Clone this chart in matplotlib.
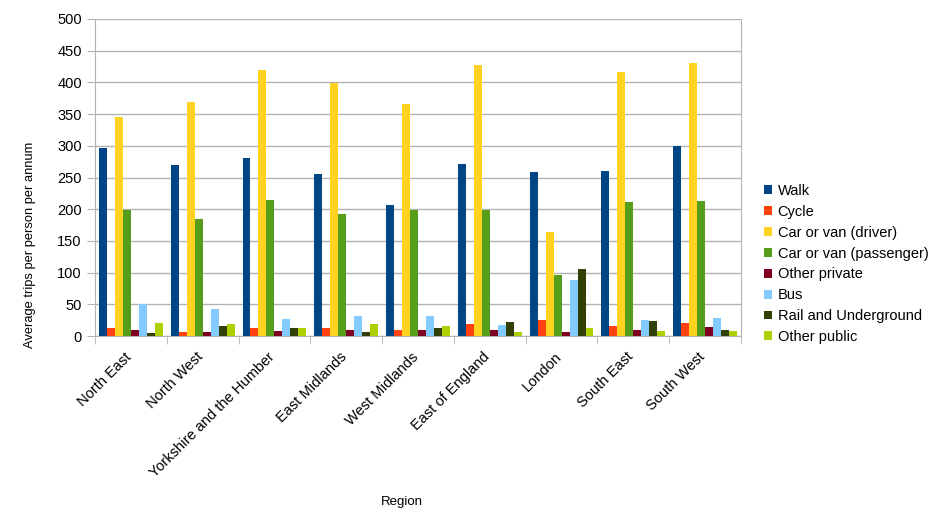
import matplotlib
matplotlib.use("Agg")
import matplotlib.pyplot as plt
import matplotlib.transforms as mtransforms
import numpy as np

plt.rcParams['font.family'] = ['Liberation Sans', 'DejaVu Sans']

regions = ["North East", "North West", "Yorkshire and the Humber", "East Midlands",
           "West Midlands", "East of England", "London", "South East", "South West"]
series_names = ["Walk", "Cycle", "Car or van (driver)", "Car or van (passenger)",
                "Other private", "Bus", "Rail and Underground", "Other public"]
walk = [297, 269, 281, 256, 206, 271, 258, 260, 299]
cycle = [12, 7, 13, 13, 10, 19, 25, 16, 21]
driver = [345, 369, 419, 399, 366, 428, 164, 417, 430]
passenger = [199, 185, 214, 192, 199, 199, 96, 212, 213]
other_private = [9, 7, 8, 9, 10, 10, 6, 9, 14]
bus = [51, 43, 27, 31, 32, 18, 88, 25, 28]
rail = [4, 15, 12, 6, 13, 22, 105, 24, 9]
other_public = [21, 19, 13, 19, 15, 6, 12, 8, 8]
colors = ["#004586", "#ff420e", "#ffd320", "#579d1c", "#7e0021", "#83caff", "#314004", "#aecf00"]

data = [walk, cycle, driver, passenger, other_private, bus, rail, other_public]

W, H = 943, 530
fig = plt.figure(figsize=(W/100, H/100), dpi=100)
L, R, T, B = 95, 741, 19, 336
ax = fig.add_axes([L/W, 1-B/H, (R-L)/W, (B-T)/H])

x = np.arange(len(regions))
n = len(data)
total = 0.89
bw = total / n
for i, (vals, name, c) in enumerate(zip(data, series_names, colors)):
    ax.bar(x - total/2 + bw*(i+0.5), vals, width=bw, color=c, label=name, linewidth=0, zorder=3)

ax.set_xlim(-0.5, len(regions)-0.5)
ax.set_ylim(0, 500)
ax.set_yticks(np.arange(0, 501, 50))
ax.yaxis.grid(True, color="#b3b3b3", linewidth=1, zorder=0)
ax.set_axisbelow(True)
for s in ["left", "right", "bottom", "top"]:
    ax.spines[s].set_color("#b3b3b3")
ax.spines["top"].set_visible(False)
ax.tick_params(axis='y', length=5.5, color="#b3b3b3", labelsize=10.5, pad=4, direction='out')
ax.set_xticks(x)
ax.set_xticklabels(regions, rotation=45, ha='right', rotation_mode='anchor', fontsize=10.5)
ax.tick_params(axis='x', length=0, pad=10)
offset = mtransforms.ScaledTranslation(-7/100, 0, fig.dpi_scale_trans)
for lab in ax.get_xticklabels():
    lab.set_transform(lab.get_transform() + offset)
ax.set_xticks(np.arange(-0.5, len(regions)), minor=True)
ax.tick_params(axis='x', which='minor', length=5.5, color="#b3b3b3")

fig.text(30/W, 1-245/H, "Average trips per person per annum", rotation=90,
         ha='center', va='center', fontsize=9.3)
fig.text(402/W, 1-502/H, "Region", ha='center', va='center', fontsize=9.5)

leg = fig.legend(loc='center left', bbox_to_anchor=(764/W, 1-264/H), frameon=False,
                 fontsize=10.5, handlelength=0.55, handleheight=0.55, handletextpad=0.38,
                 labelspacing=0.47, borderpad=0, borderaxespad=0)

fig.savefig("out.png", dpi=100)
